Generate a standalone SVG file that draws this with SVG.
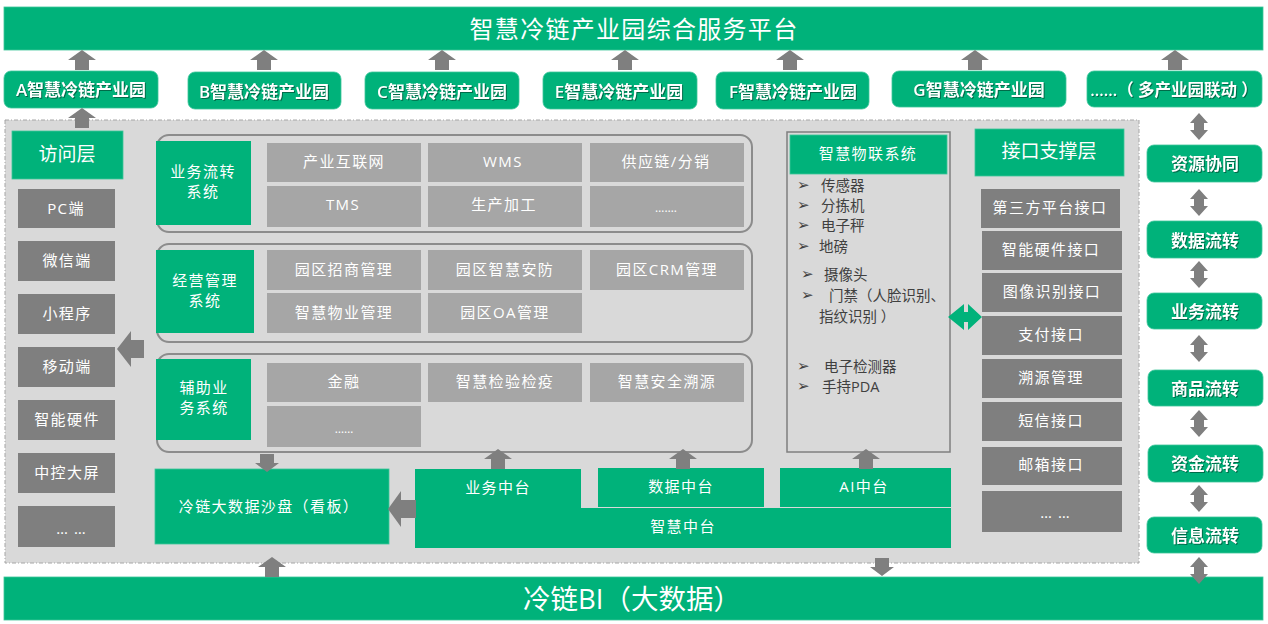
<svg xmlns="http://www.w3.org/2000/svg" width="1268" height="624" viewBox="0 0 1268 624">
<style>
text{font-family:"Open Sans","Noto Sans CJK SC",sans-serif;text-anchor:middle;dominant-baseline:central;fill:#fff;font-size:15px;transform:translateY(-1px)}
.g{fill:#00b27a}
.gb{fill:#00b27a;stroke:#3cc59a;stroke-width:.8}
.c1{fill:#a6a6a6}
.c2{fill:#7f7f7f}
.sp{letter-spacing:1.4px}
.dots{letter-spacing:6px;font-size:15px}
.pk{font-size:17px;font-weight:600;filter:drop-shadow(1px 1px .7px rgba(0,0,0,.4))}
.h{font-size:19px}
.li{fill:#404040;text-anchor:start;font-size:14.5px}
.bu{fill:#404040;text-anchor:start;font-size:15px;font-family:"DejaVu Sans",sans-serif}
.frame{fill:none;stroke:#8c8c8c;stroke-width:2}
</style>
<defs>
<path id="up" class="c2" d="M0 0L14 10H7V20H-7V10H-14Z"/>
<path id="down" class="c2" d="M0 0L-12 -9H-7V-18H7V-9H12Z"/>
<path id="dbl" fill="#7f7f7f" d="M0 0L9 10H5V17H9L0 27L-9 17H-5V10H-9Z"/>
</defs>

<rect x="5" y="120" width="1134" height="443" fill="#d9d9d9" stroke="#a6a6a6" stroke-dasharray="4 2 1 2"/>

<g id="top-platform"><rect class="gb" x="4" y="7" width="1259" height="43"/><text x="634" y="29" style="font-size:24px;letter-spacing:1.3px">智慧冷链产业园综合服务平台</text></g>
<g id="bi-platform"><rect class="gb" x="4" y="577" width="1259" height="43"/><text x="632" y="599" style="font-size:27.5px">冷链BI（大数据）</text></g>

<g id="park-a"><rect class="gb" x="4" y="71" width="154" height="37" rx="7"/><text class="pk" x="81" y="90">A智慧冷链产业园</text></g>
<g id="park-b"><rect class="gb" x="188" y="72" width="153" height="37" rx="7"/><text class="pk" x="264" y="92">B智慧冷链产业园</text></g>
<g id="park-c"><rect class="gb" x="365" y="72" width="154" height="37" rx="7"/><text class="pk" x="442" y="92">C智慧冷链产业园</text></g>
<g id="park-e"><rect class="gb" x="543" y="72" width="154" height="37" rx="7"/><text class="pk" x="619" y="92">E智慧冷链产业园</text></g>
<g id="park-f"><rect class="gb" x="716" y="72" width="153" height="37" rx="7"/><text class="pk" x="793" y="92">F智慧冷链产业园</text></g>
<g id="park-g"><rect class="gb" x="892" y="71" width="174" height="36" rx="7"/><text class="pk" x="979" y="90">G智慧冷链产业园</text></g>
<g id="park-more"><rect class="gb" x="1087" y="71" width="175" height="36" rx="7"/><text class="pk" x="1174" y="90" style="font-size:16.5px">……（ 多产业园联动 ）</text></g>

<g id="access-head"><rect class="gb" x="12" y="131" width="111" height="48"/><text class="h" x="67" y="155">访问层</text></g>
<g id="acc-pc"><rect class="c2" x="18" y="189" width="97" height="39"/><text class="sp" x="66" y="209">PC端</text></g>
<g id="acc-wx"><rect class="c2" x="18" y="241" width="97" height="40"/><text class="sp" x="67" y="261">微信端</text></g>
<g id="acc-mini"><rect class="c2" x="18" y="294" width="97" height="40"/><text class="sp" x="67" y="314">小程序</text></g>
<g id="acc-mobile"><rect class="c2" x="18" y="347" width="97" height="40"/><text class="sp" x="67" y="367">移动端</text></g>
<g id="acc-hw"><rect class="c2" x="18" y="400" width="97" height="40"/><text class="sp" x="67" y="420">智能硬件</text></g>
<g id="acc-screen"><rect class="c2" x="18" y="453" width="97" height="40"/><text class="sp" x="67" y="473">中控大屏</text></g>
<g id="acc-more"><rect class="c2" x="18" y="506" width="97" height="41"/><text class="dots" x="74" y="529">……</text></g>

<rect class="frame" x="157" y="135" width="595" height="97" rx="12"/>
<rect class="frame" x="157" y="244" width="595" height="98" rx="12"/>
<rect class="frame" x="157" y="354" width="595" height="98" rx="12"/>

<g id="sys-flow"><rect class="g" x="156" y="141" width="95" height="84"/><text class="sp" x="203" y="172">业务流转</text><text class="sp" x="203" y="192">系统</text></g>
<g id="sys-manage"><rect class="g" x="156" y="250" width="98" height="83"/><text class="sp" x="205" y="281">经营管理</text><text class="sp" x="205" y="301">系统</text></g>
<g id="sys-aux"><rect class="g" x="156" y="359" width="95" height="81"/><text class="sp" x="204" y="388">辅助业</text><text class="sp" x="204" y="408">务系统</text></g>

<g id="c-a1"><rect class="c1" x="267" y="143" width="154" height="39"/><text class="sp" x="344" y="162">产业互联网</text></g>
<g id="c-a2"><rect class="c1" x="428" y="143" width="154" height="39"/><text class="sp" x="503" y="162">WMS</text></g>
<g id="c-a3"><rect class="c1" x="590" y="143" width="154" height="39"/><text class="sp" x="666" y="162">供应链/分销</text></g>
<g id="c-a4"><rect class="c1" x="267" y="186" width="154" height="41"/><text class="sp" x="343" y="205">TMS</text></g>
<g id="c-a5"><rect class="c1" x="428" y="186" width="154" height="41"/><text class="sp" x="504" y="205">生产加工</text></g>
<g id="c-a6"><rect class="c1" x="590" y="186" width="154" height="41"/><text x="666" y="208" style="font-size:12px">…….</text></g>
<g id="c-b1"><rect class="c1" x="267" y="250" width="154" height="40"/><text class="sp" x="344" y="270">园区招商管理</text></g>
<g id="c-b2"><rect class="c1" x="428" y="250" width="154" height="40"/><text class="sp" x="505" y="270">园区智慧安防</text></g>
<g id="c-b3"><rect class="c1" x="590" y="250" width="154" height="40"/><text class="sp" x="667" y="270">园区CRM管理</text></g>
<g id="c-b4"><rect class="c1" x="267" y="293" width="154" height="40"/><text class="sp" x="344" y="313">智慧物业管理</text></g>
<g id="c-b5"><rect class="c1" x="428" y="293" width="154" height="40"/><text class="sp" x="505" y="313">园区OA管理</text></g>
<g id="c-c1"><rect class="c1" x="267" y="363" width="154" height="39"/><text class="sp" x="344" y="382">金融</text></g>
<g id="c-c2"><rect class="c1" x="428" y="363" width="154" height="39"/><text class="sp" x="505" y="382">智慧检验检疫</text></g>
<g id="c-c3"><rect class="c1" x="590" y="363" width="154" height="39"/><text class="sp" x="667" y="382">智慧安全溯源</text></g>
<g id="c-c4"><rect class="c1" x="267" y="406" width="154" height="41"/><text x="344" y="429" style="font-size:12px">……</text></g>

<g id="sandbox"><rect class="gb" x="155" y="469" width="234" height="75"/><text class="sp" x="269" y="507">冷链大数据沙盘（看板）</text></g>
<g id="mid-platform"><path class="g" d="M415 469H581V508H951V548H415Z"/><text class="sp" x="498" y="488">业务中台</text><text class="sp" x="683" y="527">智慧中台</text></g>
<g id="mid-data"><rect class="g" x="598" y="468" width="166" height="39"/><text class="sp" x="681" y="487">数据中台</text></g>
<g id="mid-ai"><rect class="g" x="780" y="468" width="171" height="39"/><text class="sp" x="864" y="487">AI中台</text></g>

<g id="iot">
<rect x="787" y="132" width="163" height="320" fill="none" stroke="#7f7f7f" stroke-width="1.5"/>
<rect class="gb" x="790" y="135" width="157" height="39"/>
<text class="sp" x="868" y="154">智慧物联系统</text>
<text class="bu" x="797" y="186">➢</text><text class="li" x="821" y="186">传感器</text>
<text class="bu" x="797" y="206">➢</text><text class="li" x="821" y="206">分拣机</text>
<text class="bu" x="797" y="226">➢</text><text class="li" x="821" y="226">电子秤</text>
<text class="bu" x="797" y="247">➢</text><text class="li" x="819" y="247">地磅</text>
<text class="bu" x="801" y="275">➢</text><text class="li" x="824" y="275">摄像头</text>
<text class="bu" x="801" y="296">➢</text><text class="li" x="829" y="296">门禁（人脸识别、</text>
<text class="li" x="819" y="317">指纹识别 ）</text>
<text class="bu" x="797" y="367">➢</text><text class="li" x="824" y="367">电子检测器</text>
<text class="bu" x="797" y="387">➢</text><text class="li" x="822" y="387">手持PDA</text>
</g>

<g id="api-head"><rect class="gb" x="975" y="129" width="149" height="47"/><text class="h" x="1049" y="152">接口支撑层</text></g>
<g id="api-1"><rect class="c2" x="981" y="189" width="139" height="39"/><text class="sp" x="1050" y="208">第三方平台接口</text></g>
<g id="api-2"><rect class="c2" x="982" y="231" width="140" height="39"/><text class="sp" x="1051" y="250">智能硬件接口</text></g>
<g id="api-3"><rect class="c2" x="982" y="273" width="140" height="39"/><text class="sp" x="1052" y="292">图像识别接口</text></g>
<g id="api-4"><rect class="c2" x="982" y="316" width="140" height="39"/><text class="sp" x="1051" y="335">支付接口</text></g>
<g id="api-5"><rect class="c2" x="982" y="359" width="140" height="39"/><text class="sp" x="1051" y="378">溯源管理</text></g>
<g id="api-6"><rect class="c2" x="982" y="402" width="140" height="39"/><text class="sp" x="1051" y="421">短信接口</text></g>
<g id="api-7"><rect class="c2" x="982" y="447" width="140" height="38"/><text class="sp" x="1051" y="465">邮箱接口</text></g>
<g id="api-8"><rect class="c2" x="982" y="491" width="140" height="41"/><text class="dots" x="1058" y="513">……</text></g>

<g id="flow-1"><rect class="gb" x="1147" y="145" width="115" height="37" rx="7"/><text class="pk" x="1205" y="164">资源协同</text></g>
<g id="flow-2"><rect class="gb" x="1147" y="221" width="115" height="37" rx="7"/><text class="pk" x="1205" y="241">数据流转</text></g>
<g id="flow-3"><rect class="gb" x="1147" y="293" width="115" height="36" rx="7"/><text class="pk" x="1205" y="312">业务流转</text></g>
<g id="flow-4"><rect class="gb" x="1148" y="370" width="115" height="36" rx="7"/><text class="pk" x="1205" y="389">商品流转</text></g>
<g id="flow-5"><rect class="gb" x="1148" y="445" width="115" height="37" rx="7"/><text class="pk" x="1205" y="464">资金流转</text></g>
<g id="flow-6"><rect class="gb" x="1147" y="517" width="115" height="36" rx="7"/><text class="pk" x="1205" y="536">信息流转</text></g>

<g id="connectors">
<use href="#up" x="82" y="50"/><use href="#up" x="264" y="50"/><use href="#up" x="442" y="50"/><use href="#up" x="625" y="50"/><use href="#up" x="790" y="50"/><use href="#up" x="975" y="50"/><use href="#up" x="1175" y="50"/>
<use href="#up" x="82" y="108"/>
<use href="#up" x="498" y="449"/><use href="#up" x="683" y="449"/><use href="#up" x="866" y="449"/>
<use href="#up" x="272" y="557"/>
<use href="#down" x="267" y="472"/><use href="#down" x="882" y="576"/>
<path class="c2" d="M388 509L401 491V500H416V518H401V527Z"/>
<path class="c2" d="M117 349L131 331V340H144V358H131V367Z"/>
<path class="g" d="M948 317L964 304V312H966V322H964V330ZM982 317L968 304V312H966V322H968V330Z"/>
<use href="#dbl" x="1199" y="113"/><use href="#dbl" x="1199" y="189"/><use href="#dbl" x="1199" y="261"/><use href="#dbl" x="1199" y="335"/><use href="#dbl" x="1199" y="410"/><use href="#dbl" x="1199" y="485"/><use href="#dbl" x="1199" y="557"/>
</g>
</svg>
